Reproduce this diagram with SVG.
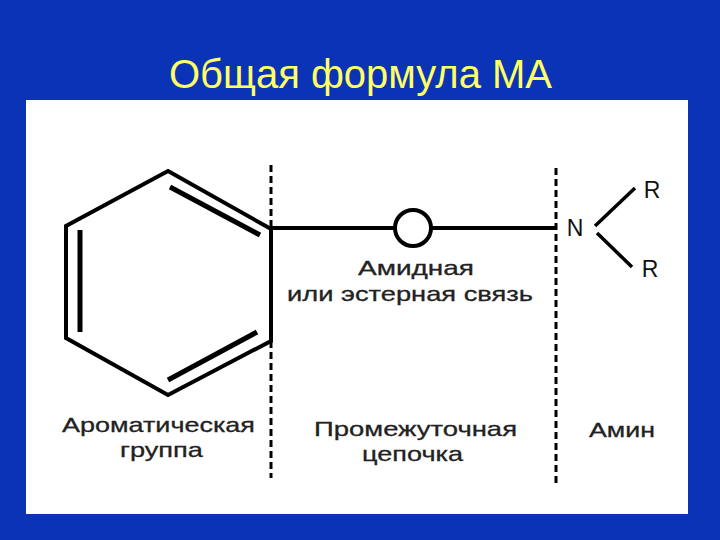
<svg xmlns="http://www.w3.org/2000/svg" width="720" height="540" viewBox="0 0 720 540">
<style>
.b{fill:none;stroke:#000;stroke-width:4}
.i{stroke-width:5}
.t{stroke-width:3.5}
.d{fill:none;stroke:#000;stroke-width:3;stroke-dasharray:7 4}
.l{font-family:"Liberation Sans",Arial,sans-serif;font-size:21px;fill:#222;stroke:#222;stroke-width:.3}
.a{font-family:"Liberation Sans",Arial,sans-serif;font-size:23px;fill:#111;text-anchor:middle}
</style>
<rect width="720" height="540" fill="#0b33b5"/>
<text x="169" y="88" font-family="Liberation Sans,Arial,sans-serif" font-size="40" fill="#ffff66" textLength="383" lengthAdjust="spacingAndGlyphs">Общая формула МА</text>
<rect x="26" y="100" width="662" height="414" fill="#fff"/>
<g id="ring">
<polygon class="b" points="168,171 271,229 271,341 168,395 66,338 66,226"/>
<line class="b i" x1="170" y1="187" x2="260" y2="235"/>
<line class="b i" x1="80" y1="230" x2="80" y2="332"/>
<line class="b i" x1="168" y1="380" x2="257" y2="332"/>
</g>
<g id="connectors">
<line class="d" x1="271" y1="165" x2="271" y2="478"/>
<line class="d" x1="556" y1="168" x2="556" y2="485"/>
<line class="b" x1="272" y1="228" x2="395" y2="228"/>
<line class="b" x1="432" y1="228" x2="556" y2="228"/>
<line class="b t" x1="595" y1="226" x2="635" y2="188"/>
<line class="b t" x1="597" y1="233" x2="632" y2="267"/>
</g>
<g id="link"><circle class="b" cx="413" cy="228" r="18"/></g>
<g id="amine">
<text x="575" y="236" class="a">N</text>
<text x="652" y="198" class="a">R</text>
<text x="650" y="277" class="a">R</text>
</g>
<g id="labels">
<text x="62" y="432" class="l" textLength="193" lengthAdjust="spacingAndGlyphs">Ароматическая</text>
<text x="120" y="457" class="l" textLength="83" lengthAdjust="spacingAndGlyphs">группа</text>
<text x="358" y="275" class="l" textLength="116" lengthAdjust="spacingAndGlyphs">Амидная</text>
<text x="287" y="301" class="l" textLength="246" lengthAdjust="spacingAndGlyphs">или эстерная связь</text>
<text x="314" y="436" class="l" textLength="203" lengthAdjust="spacingAndGlyphs">Промежуточная</text>
<text x="362" y="461" class="l" textLength="101" lengthAdjust="spacingAndGlyphs">цепочка</text>
<text x="589" y="437" class="l" textLength="66" lengthAdjust="spacingAndGlyphs">Амин</text>
</g>
</svg>
